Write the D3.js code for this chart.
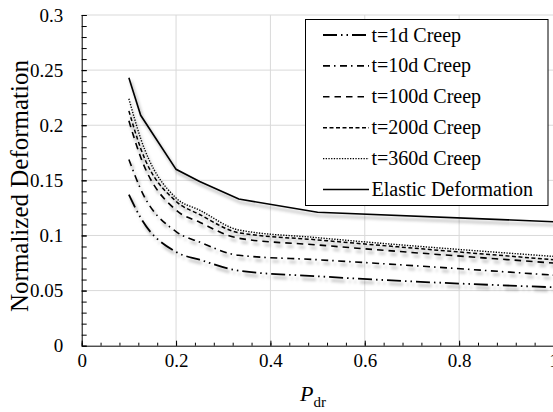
<!DOCTYPE html>
<html>
<head>
<meta charset="utf-8">
<script src="https://cdn.jsdelivr.net/npm/d3@7"></script>
<style>
  html, body { margin: 0; padding: 0; background: #fff; }
  svg { display: block; }
  text { font-family: "Liberation Serif", "Times New Roman", serif; fill: #000; }
</style>
</head>
<body>
<svg id="chart" width="553" height="412"></svg>
<script>
// ---- data ----
const pdr = [0.1, 0.125, 0.2, 0.25, 0.333, 0.5, 1.0];
const creep1d   = [0.137, 0.116, 0.085, 0.078, 0.068, 0.063, 0.053];
const creep10d  = [0.169, 0.142, 0.1035, 0.094, 0.082, 0.078, 0.064];
const creep100d = [0.204, 0.171, 0.123, 0.112, 0.0975, 0.0914, 0.075];
const creep200d = [0.213, 0.179, 0.131, 0.119, 0.1025, 0.096, 0.078];
const creep360d = [0.224, 0.188, 0.134, 0.123, 0.105, 0.098, 0.081];
const elastic   = [0.243, 0.209, 0.160, 0.149, 0.133, 0.121, 0.1125];
const seriesNames = ["t=1d Creep", "t=10d Creep", "t=100d Creep", "t=200d Creep", "t=360d Creep", "Elastic Deformation"];
const xTicks = [0, 0.2, 0.4, 0.6, 0.8, 1];
const yTicks = [0, 0.05, 0.1, 0.15, 0.2, 0.25, 0.3];

// ---- styles ----
const seriesData = [creep1d, creep10d, creep100d, creep200d, creep360d, elastic];
const dashes = ["14,4,1.5,4,1.5,4", "7,4,1.5,4.5", "6.5,5", "4,2.5", "1.3,1.4", null];
const widths = [1.8, 1.6, 1.6, 1.5, 1.4, 1.6];

const svg = d3.select("#chart");
const x = d3.scaleLinear().domain([0, 1]).range([81.7, 553.5]);
const y = d3.scaleLinear().domain([0, 0.3]).range([345.7, 15]);

// shadow filter
const defs = svg.append("defs");
const f = defs.append("filter").attr("id", "shadow").attr("x", "-10%").attr("y", "-10%").attr("width", "130%").attr("height", "140%");
f.append("feDropShadow").attr("dx", 2).attr("dy", 3.5).attr("stdDeviation", 1.6)
  .attr("flood-color", "#000").attr("flood-opacity", 0.35);

// gridlines
const grid = svg.append("g");
grid.selectAll("line.h").data(yTicks.filter(d => d > 0)).join("line")
  .attr("x1", x(0)).attr("x2", x(1)).attr("y1", d => y(d)).attr("y2", d => y(d))
  .attr("stroke", "#d9d9d9").attr("stroke-width", 1);
grid.selectAll("line.v").data(xTicks.filter(d => d > 0)).join("line")
  .attr("y1", y(0)).attr("y2", y(0.3)).attr("x1", d => x(d)).attr("x2", d => x(d))
  .attr("stroke", "#d9d9d9").attr("stroke-width", 1);

// axes
const xMinor = d3.range(0, 1.0001, 0.04);
const yMinor = d3.range(0, 0.3001, 0.01);
const gx = svg.append("g").attr("transform", `translate(0,${y(0)})`)
  .call(d3.axisBottom(x).tickValues(xMinor).tickSize(-3).tickFormat(""));
gx.select(".domain").remove();
gx.selectAll("line").attr("stroke", "#000");
const gx2 = svg.append("g").attr("transform", `translate(0,${y(0)})`)
  .call(d3.axisBottom(x).tickValues(xTicks).tickSize(-5).tickSizeOuter(0).tickPadding(12).tickFormat(d3.format("")));
gx2.selectAll("line").attr("stroke", "#000");
gx2.select(".domain").attr("stroke", "#000");
gx2.selectAll("text").attr("font-size", 19).attr("font-family", "Liberation Serif").attr("dy", "0.71em").attr("y", 8);

const gy = svg.append("g").attr("transform", `translate(${x(0)},0)`)
  .call(d3.axisLeft(y).tickValues(yMinor).tickSize(-5).tickFormat(""));
gy.select(".domain").remove();
gy.selectAll("line").attr("stroke", "#000");
const gy2 = svg.append("g").attr("transform", `translate(${x(0)},0)`)
  .call(d3.axisLeft(y).tickValues(yTicks).tickSize(-5).tickSizeOuter(0).tickFormat(d3.format("")));
gy2.selectAll("line").attr("stroke", "#000");
gy2.select(".domain").attr("stroke", "#000");
gy2.selectAll("text").attr("font-size", 19).attr("font-family", "Liberation Serif").attr("x", -18.5).attr("dy", "0.33em");

// lines
const lineSmooth = d3.line().x((d, i) => x(pdr[i])).y(d => y(d)).curve(d3.curveMonotoneX);
const lineLin = d3.line().x((d, i) => x(pdr[i])).y(d => y(d));
const plot = svg.append("g");
seriesData.forEach((s, k) => {
  plot.append("path").datum(s)
    .attr("d", k === 5 ? lineLin : lineSmooth)
    .attr("fill", "none").attr("stroke", "#000")
    .attr("stroke-width", widths[k])
    .attr("stroke-dasharray", dashes[k])
    .attr("filter", "url(#shadow)");
});

// legend
const lg = svg.append("g");
lg.append("rect").attr("x", 305.5).attr("y", 19.5).attr("width", 242.5).attr("height", 186)
  .attr("fill", "#fff").attr("stroke", "#000").attr("stroke-width", 1);
seriesNames.forEach((name, k) => {
  const ly = 35 + k * 30.9;
  lg.append("line").attr("x1", 323).attr("x2", 369).attr("y1", ly).attr("y2", ly)
    .attr("stroke", "#000").attr("stroke-width", widths[k]).attr("stroke-dasharray", dashes[k]);
  lg.append("text").attr("x", 371.5).attr("y", ly + 6.5).attr("font-size", 20).text(name);
});

// axis titles
svg.append("text").attr("transform", "translate(28,186) rotate(-90)")
  .attr("text-anchor", "middle").attr("font-size", 25).text("Normalized Deformation");
const xt = svg.append("text").attr("x", 300).attr("y", 401);
xt.append("tspan").attr("font-style", "italic").attr("font-size", 22).text("P");
xt.append("tspan").attr("font-size", 15).attr("dy", 6).text("dr");
</script>
</body>
</html>
